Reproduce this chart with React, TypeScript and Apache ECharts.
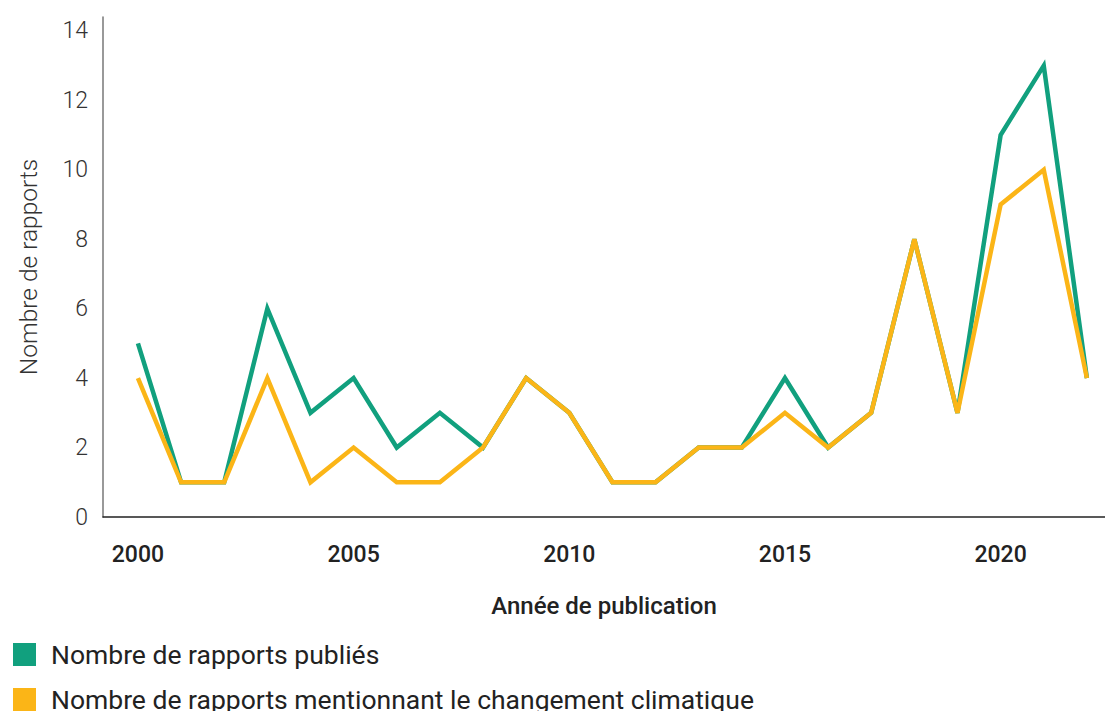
import React, { useEffect, useRef } from "react";
import * as echarts from "echarts";

const years = [2000, 2001, 2002, 2003, 2004, 2005, 2006, 2007, 2008, 2009, 2010, 2011, 2012, 2013, 2014, 2015, 2016, 2017, 2018, 2019, 2020, 2021, 2022];
const published = [5, 1, 1, 6, 3, 4, 2, 3, 2, 4, 3, 1, 1, 2, 2, 4, 2, 3, 8, 3, 11, 13, 4];
const climate = [4, 1, 1, 4, 1, 2, 1, 1, 2, 4, 3, 1, 1, 2, 2, 3, 2, 3, 8, 3, 9, 10, 4];
const xTicks = [2000, 2005, 2010, 2015, 2020];
const seriesNames = ["Nombre de rapports publiés", "Nombre de rapports mentionnant le changement climatique"];
const colors = ["#11a07e", "#fbb517"];

export default function App() {
  const ref = useRef<HTMLDivElement>(null);
  useEffect(() => {
    if (!ref.current) return;
    const chart = echarts.init(ref.current, undefined, { renderer: "svg" });
    const font = "Roboto";
    const legendBase = {
      orient: "horizontal",
      left: 13,
      padding: 0,
      icon: "rect",
      itemWidth: 23,
      itemHeight: 23,
      textStyle: { fontSize: 26.5, color: "#222", fontFamily: font, padding: [0, 0, 0, 10] },
    };
    chart.setOption({
      animation: false,
      textStyle: { fontFamily: font },
      grid: { left: 103, right: 0, top: 17, bottom: 194, containLabel: false },
      legend: [
        { ...legendBase, top: 641, data: [seriesNames[0]] },
        { ...legendBase, top: 686, data: [seriesNames[1]] },
      ],
      xAxis: {
        type: "value",
        min: 1999.19,
        max: 2022.42,
        axisLine: { show: true, lineStyle: { color: "#222", width: 1.5 } },
        axisTick: { show: false },
        splitLine: { show: false },
        axisLabel: {
          customValues: xTicks,
          formatter: (v: number) => String(v),
          fontSize: 23,
          fontWeight: 500,
          color: "#222",
          margin: 26,
          fontFamily: font,
        },
        name: "Année de publication",
        nameLocation: "middle",
        nameGap: 77,
        nameTextStyle: { fontSize: 24, fontWeight: 500, color: "#222", fontFamily: font },
      },
      yAxis: {
        type: "value",
        min: 0,
        max: 14.4,
        interval: 2,
        axisLine: { show: true, lineStyle: { color: "#777", width: 1.5 } },
        axisTick: { show: false },
        splitLine: { show: false },
        axisLabel: {
          showMaxLabel: false,
          fontSize: 23,
          fontWeight: 300,
          color: "#333",
          margin: 15,
          fontFamily: font,
          formatter: (v: number) => (Number.isInteger(v) ? String(v) : ""),
        },
        name: "Nombre de rapports",
        nameLocation: "middle",
        nameGap: 62,
        nameTextStyle: { fontSize: 24.5, fontWeight: 300, color: "#333", fontFamily: font },
      },
      series: [
        {
          name: seriesNames[0],
          type: "line",
          data: years.map((y, i) => [y, published[i]]),
          showSymbol: false,
          symbol: "none",
          itemStyle: { color: colors[0] },
          lineStyle: { color: colors[0], width: 4.5, join: "miter" },
          z: 2,
        },
        {
          name: seriesNames[1],
          type: "line",
          data: years.map((y, i) => [y, climate[i]]),
          showSymbol: false,
          symbol: "none",
          itemStyle: { color: colors[1] },
          lineStyle: { color: colors[1], width: 4.5, join: "miter" },
          z: 3,
        },
      ],
    });
    return () => chart.dispose();
  }, []);
  return <div ref={ref} style={{ position: "fixed", left: 0, top: 0, width: 1105, height: 711, background: "#fff" }} />;
}
